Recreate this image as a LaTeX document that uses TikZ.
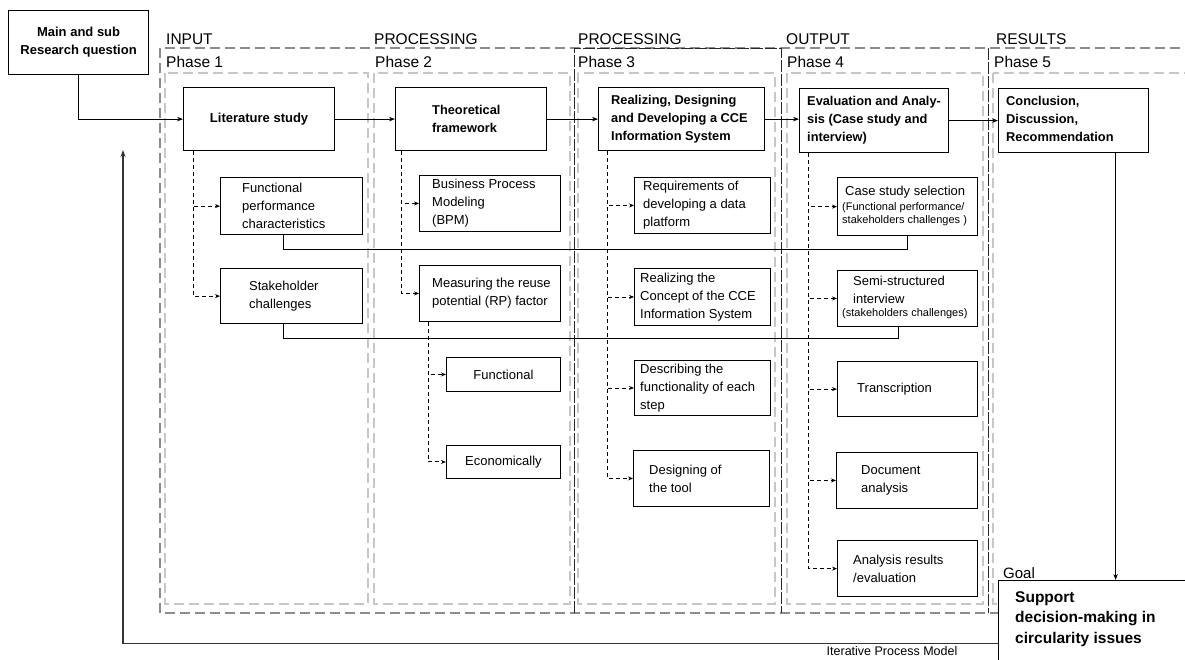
\documentclass[tikz,border=0pt]{standalone}
\usepackage{fontspec}
\setmainfont{Liberation Sans}
\usetikzlibrary{arrows.meta}

\newcommand\smallnote[1]{{\fontsize{11}{13}\selectfont #1}}

\begin{document}
\begin{tikzpicture}[x=1pt,y=-1pt,
  every node/.style={inner sep=0pt},
  hdr/.style={anchor=base west, font=\fontsize{15.5}{18}\selectfont},
  mbox/.style={draw, line width=1.2pt, anchor=north west},
  sbox/.style={draw, line width=0.9pt, anchor=north west},
  mtxt/.style={anchor=west, align=left, font=\bfseries\fontsize{12.8}{18}\selectfont},
  stxt/.style={anchor=west, align=left, font=\fontsize{13}{18}\selectfont},
  flow/.style={line width=0.8pt, -{Stealth[length=6pt,width=4.5pt]}},
  branch/.style={line width=0.7pt, dash pattern=on 4pt off 3pt, -{Stealth[length=5pt,width=4pt]}},
  link/.style={line width=0.8pt},
  outer/.style={draw=black!45, line width=1.1pt, dash pattern=on 10pt off 5pt},
  inner/.style={draw=black!22, line width=1.1pt, dash pattern=on 10pt off 5pt},
  split/.style={draw=black!85, line width=0.9pt, dash pattern=on 12pt off 2pt},
]
\useasboundingbox (0,0) rectangle (1185,659);
\fill[white] (0,0) rectangle (1185,659);

% phase frames
\draw[outer] (160,48) rectangle (1200,613);
\draw[inner] (165,73) rectangle (368,604);
\draw[inner] (374,73) rectangle (570,604);
\draw[inner] (578,73) rectangle (775,604);
\draw[inner] (787,73) rectangle (983,604);
\draw[inner] (993,73) rectangle (1200,604);
\draw[split] (574,613) -- (574,48) -- (781,48) -- (781,613);
\draw[split] (988,48) -- (988,613);

% headings
\node[hdr] (h1) at (166,44) {INPUT};
\node[hdr] (h2) at (374,44) {PROCESSING};
\node[hdr] (h3) at (578,44) {PROCESSING};
\node[hdr] (h4) at (786,44) {OUTPUT};
\node[hdr] (h5) at (996,44) {RESULTS};
\node[hdr] (p1) at (166,67) {Phase 1};
\node[hdr] (p2) at (375,67) {Phase 2};
\node[hdr] (p3) at (578,67) {Phase 3};
\node[hdr] (p4) at (787,67) {Phase 4};
\node[hdr] (p5) at (994,67) {Phase 5};

% research question
\node[mbox, minimum width=140, minimum height=64, align=center,
      font=\bfseries\fontsize{13}{18}\selectfont] (rq) at (8,10)
      {Main and sub\\Research question};

% main steps
\node[mbox, minimum width=151, minimum height=63,
      font=\bfseries\fontsize{13}{18}\selectfont] (lit) at (183,87) {Literature study};
\node[mbox, minimum width=151, minimum height=63] (theo) at (395,87) {};
\node[mtxt] (theo-t) at ([xshift=37pt]theo.west) {Theoretical\\framework};
\node[mbox, minimum width=166, minimum height=63] (real) at (598,87) {};
\node[mtxt] (real-t) at ([xshift=13pt]real.west) {Realizing, Designing\\and Developing a CCE\\Information System};
\node[mbox, minimum width=149, minimum height=64] (eval) at (799,88) {};
\node[mtxt] (eval-t) at ([xshift=8pt]eval.west) {Evaluation and Analy-\\sis (Case study and\\interview)};
\node[mbox, minimum width=150, minimum height=64] (conc) at (998,88) {};
\node[mtxt] (conc-t) at ([xshift=8pt,yshift=2pt]conc.west) {Conclusion,\\Discussion,\\Recommendation};

% phase 1 details
\node[sbox, line width=1.2pt, minimum width=142, minimum height=57] (fpc) at (220,177) {};
\node[stxt] (fpc-t) at ([xshift=22pt]fpc.west) {Functional\\performance\\characteristics};
\node[sbox, line width=1.2pt, minimum width=142, minimum height=55] (sc) at (220,268) {};
\node[stxt] (sc-t) at ([xshift=29pt]sc.west) {Stakeholder\\challenges};

% phase 2 details
\node[sbox, minimum width=141, minimum height=56] (bpm) at (419,175) {};
\node[stxt] (bpm-t) at ([xshift=13pt]bpm.west) {Business Process\\Modeling\\(BPM)};
\node[sbox, minimum width=141, minimum height=56] (meas) at (419,265) {};
\node[stxt] (meas-t) at ([xshift=13pt]meas.west) {Measuring the reuse\\potential (RP) factor};
\node[sbox, minimum width=114, minimum height=34, font=\fontsize{13}{18}\selectfont] (func) at (446,357) {Functional};
\node[sbox, minimum width=114, minimum height=33, font=\fontsize{13}{18}\selectfont] (econ) at (446,445) {Economically};

% phase 3 details
\node[sbox, minimum width=136, minimum height=56] (req) at (634,177) {};
\node[stxt] (req-t) at ([xshift=9pt]req.west) {Requirements of\\developing a data\\platform};
\node[sbox, minimum width=136, minimum height=57] (concept) at (634,268) {};
\node[stxt] (concept-t) at ([xshift=6pt]concept.west) {Realizing the\\Concept of the CCE\\Information System};
\node[sbox, minimum width=136, minimum height=55] (desc) at (634,360) {};
\node[stxt] (desc-t) at ([xshift=6pt]desc.west) {Describing the\\functionality of each\\step};
\node[sbox, minimum width=136, minimum height=56] (tool) at (633,450) {};
\node[stxt] (tool-t) at ([xshift=16pt]tool.west) {Designing of\\the tool};

% phase 4 details
\node[sbox, line width=1.2pt, minimum width=140, minimum height=58] (case) at (837,177) {};
\node[stxt, font=\fontsize{13}{14}\selectfont] (case-t) at ([xshift=8pt,yshift=1pt]case.west)
  {Case study selection\\[1pt]\hspace*{-3pt}\smallnote{(Functional performance/}\\[-1pt]\hspace*{-3pt}\smallnote{stakeholders challenges )}};
\node[sbox, minimum width=140, minimum height=56] (semi) at (837,270) {};
\node[stxt, font=\fontsize{13}{18}\selectfont] (semi-t) at ([xshift=16pt,yshift=1pt]semi.west)
  {Semi-structured\\interview\\[-5pt]\hspace*{-11pt}\smallnote{(stakeholders challenges)}};
\node[sbox, line width=1.2pt, minimum width=140, minimum height=55] (trans) at (837,361) {};
\node[stxt] (trans-t) at ([xshift=20pt]trans.west) {Transcription};
\node[sbox, minimum width=141, minimum height=56] (doca) at (836,452) {};
\node[stxt] (doca-t) at ([xshift=25pt]doca.west) {Document\\analysis};
\node[sbox, line width=1.2pt, minimum width=140, minimum height=56] (anr) at (837,540) {};
\node[stxt] (anr-t) at ([xshift=16pt]anr.west) {Analysis results\\/evaluation};

% goal
\node[draw, fill=white, line width=1pt, anchor=north west, minimum width=200, minimum height=126] (goal) at (998,580) {};
\node[anchor=north west, align=left, font=\bfseries\fontsize{15.5}{20.5}\selectfont] (goal-t) at (1015,591)
  {Support\\decision-making in\\circularity issues};
\node[anchor=base west, font=\fontsize{15}{18}\selectfont] (goal-l) at (1003,578) {Goal};
\node[font=\fontsize{12.5}{14}\selectfont] (itm) at (892,651) {Iterative Process Model};

% main flow
\draw[flow] (rq.south) |- (lit.west);
\draw[flow] (lit.east) -- (theo.west);
\draw[flow] (theo.east) -- (real.west);
\draw[flow] (real.east) -- (real.east -| eval.west);
\draw[flow] (eval.east) -- (conc.west);
\draw[flow] ([xshift=42pt]conc.south) -- ([xshift=42pt]conc.south |- goal.north);
\coordinate (fbtop) at (123,150);
\draw[line width=1.3pt, draw=black!80, -{Stealth[length=7pt,width=5pt]}] (goal.west) -| (fbtop);

% branches within phases
\draw[branch] ([xshift=10pt]lit.south west) |- (fpc.west);
\draw[branch] ([xshift=10pt]lit.south west) |- (sc.west);
\draw[branch] ([xshift=6pt]theo.south west) |- (bpm.west);
\draw[branch] ([xshift=6pt]theo.south west) |- (meas.west);
\draw[branch, line width=1pt] ([xshift=9pt]meas.south west) |- (func.west);
\draw[branch, line width=1pt] ([xshift=9pt]meas.south west) |- (econ.west);
\draw[branch] ([xshift=9pt]real.south west) |- (req.west);
\draw[branch] ([xshift=9pt]real.south west) |- (concept.west);
\draw[branch] ([xshift=9pt]real.south west) |- (desc.west);
\draw[branch] ([xshift=9pt]real.south west) |- (tool.west);
\draw[branch] ([xshift=9pt]eval.south west) |- (case.west);
\draw[branch] ([xshift=9pt]eval.south west) |- (semi.west);
\draw[branch] ([xshift=9pt]eval.south west) |- (trans.west);
\draw[branch] ([xshift=9pt]eval.south west) |- (doca.west);
\draw[branch] ([xshift=9pt]eval.south west) |- (anr.west);

% links from phase 1 to phase 4
\draw[link] ([xshift=-8pt]fpc.south) |- ([yshift=-13pt]case.south) -- (case.south);
\draw[link] ([xshift=-8pt]sc.south) |- ([xshift=-9pt,yshift=-11pt]semi.south) -- ([xshift=-9pt]semi.south);
\end{tikzpicture}
\end{document}
